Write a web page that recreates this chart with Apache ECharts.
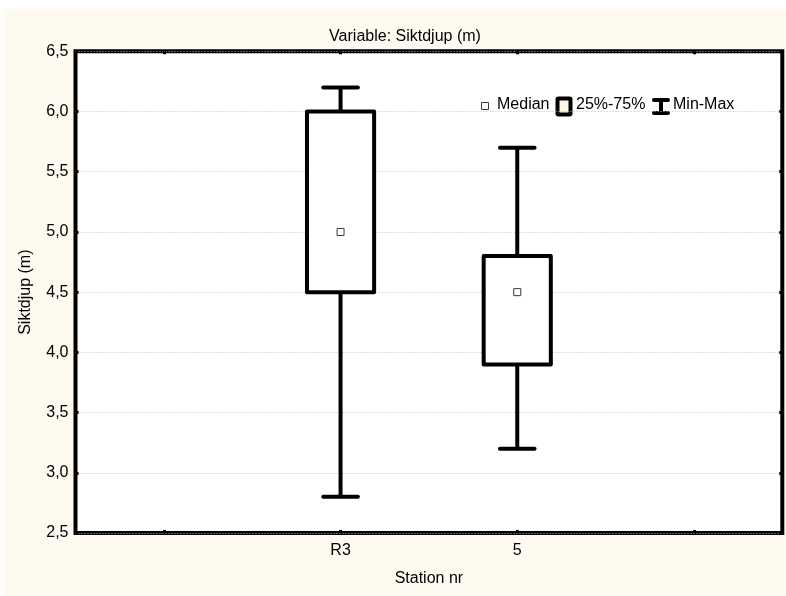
<!DOCTYPE html>
<html>
<head>
<meta charset="utf-8">
<script src="https://cdn.jsdelivr.net/npm/echarts@6/dist/echarts.min.js"></script>
<style>
  html, body { margin: 0; padding: 0; background: #ffffff; }
  #chart { position: absolute; left: 4px; top: 9px; width: 782px; height: 587px; }
</style>
</head>
<body>
<div id="chart"></div>
<script>
// Category slots on the x axis (outer slots are empty padding positions)
const categories = ['', 'R3', '5', ''];
// Stations with box statistics
const stations = ['R3', '5'];
const minValues = [2.8, 3.2];
const q1Values = [4.5, 3.9];
const medianValues = [5.0, 4.5];
const q3Values = [6.0, 4.8];
const maxValues = [6.2, 5.7];
// Y axis range and tick step
const yMin = 2.5;
const yMax = 6.5;
const yStep = 0.5;

const FONT = 'Liberation Sans, Arial, sans-serif';
const FONT_SIZE = 16;
const LINE_W = 4;

const boxData = stations.map((s, i) => [s, minValues[i], q1Values[i], q3Values[i], maxValues[i]]);
const medianData = stations.map((s, i) => [s, medianValues[i]]);

const chart = echarts.init(document.getElementById('chart'), null, { renderer: 'canvas' });

function renderWhiskers(params, api) {
  const xi = api.value(0);
  const band = api.size([1, 0])[0];
  const pMin = api.coord([xi, api.value(1)]);
  const pQ1 = api.coord([xi, api.value(2)]);
  const pQ3 = api.coord([xi, api.value(3)]);
  const pMax = api.coord([xi, api.value(4)]);
  const half = band * 0.098;
  const capStyle = { stroke: '#000', lineWidth: LINE_W, lineCap: 'round' };
  const stemStyle = { stroke: '#000', lineWidth: LINE_W };
  return {
    type: 'group',
    children: [
      { type: 'line', shape: { x1: pMax[0], y1: pMax[1], x2: pQ3[0], y2: pQ3[1] }, style: stemStyle },
      { type: 'line', shape: { x1: pMin[0], y1: pMin[1], x2: pQ1[0], y2: pQ1[1] }, style: stemStyle },
      { type: 'line', shape: { x1: pMax[0] - half, y1: pMax[1], x2: pMax[0] + half, y2: pMax[1] }, style: capStyle },
      { type: 'line', shape: { x1: pMin[0] - half, y1: pMin[1], x2: pMin[0] + half, y2: pMin[1] }, style: capStyle }
    ]
  };
}

function renderBoxes(params, api) {
  const xi = api.value(0);
  const band = api.size([1, 0])[0];
  const pQ1 = api.coord([xi, api.value(2)]);
  const pQ3 = api.coord([xi, api.value(3)]);
  const half = band * 0.19;
  return {
    type: 'rect',
    shape: { x: pQ3[0] - half, y: pQ3[1], width: half * 2, height: pQ1[1] - pQ3[1] },
    style: { fill: '#ffffff', stroke: '#000', lineWidth: LINE_W, lineJoin: 'round' }
  };
}

const tickStyle = { show: true, inside: true, length: 3, lineStyle: { color: '#000', width: 3 } };
const labelText = { fontFamily: FONT, fontSize: FONT_SIZE, color: '#000' };

const option = {
  backgroundColor: '#fefaf0',
  animation: false,
  textStyle: { fontFamily: FONT },
  title: {
    text: 'Variable: Siktdjup (m)',
    left: 396,
    top: 15,
    textAlign: 'center',
    textStyle: { fontFamily: FONT, fontSize: FONT_SIZE, fontWeight: 'normal', color: '#000' }
  },
  grid: {
    left: 71.5, right: 3.7, top: 42.3, bottom: 63,
    show: true,
    backgroundColor: '#ffffff',
    borderColor: '#000',
    borderWidth: LINE_W
  },
  xAxis: [
    {
      type: 'category',
      data: categories,
      position: 'bottom',
      boundaryGap: true,
      name: 'Station nr',
      nameLocation: 'middle',
      nameGap: 38,
      nameTextStyle: labelText,
      axisLine: { show: false },
      axisTick: Object.assign({ alignWithLabel: true, interval: 0 }, tickStyle),
      axisLabel: Object.assign({ interval: 0, margin: 10 }, labelText),
      splitLine: { show: false }
    },
    {
      type: 'category',
      data: categories,
      position: 'top',
      boundaryGap: true,
      axisLine: { show: false },
      axisTick: Object.assign({ alignWithLabel: true, interval: 0 }, tickStyle),
      axisLabel: { show: false },
      splitLine: { show: false }
    }
  ],
  yAxis: [
    {
      type: 'value',
      min: yMin,
      max: yMax,
      interval: yStep,
      position: 'left',
      name: 'Siktdjup (m)',
      nameLocation: 'middle',
      nameGap: 42,
      nameTextStyle: labelText,
      axisLine: { show: false },
      axisTick: tickStyle,
      axisLabel: Object.assign({
        margin: 7,
        formatter: v => v.toFixed(1).replace('.', ',')
      }, labelText),
      splitLine: { show: true, lineStyle: { color: '#bdbdbd', width: 1, type: [1, 2] } }
    },
    {
      type: 'value',
      min: yMin,
      max: yMax,
      interval: yStep,
      position: 'right',
      axisLine: { show: false },
      axisTick: tickStyle,
      axisLabel: { show: false },
      splitLine: { show: false }
    }
  ],
  series: [
    {
      name: 'Min-Max',
      type: 'custom',
      xAxisIndex: 0,
      yAxisIndex: 0,
      renderItem: renderWhiskers,
      encode: { x: 0, y: [1, 2, 3, 4] },
      data: boxData,
      z: 3
    },
    {
      name: '25%-75%',
      type: 'custom',
      xAxisIndex: 0,
      yAxisIndex: 0,
      renderItem: renderBoxes,
      encode: { x: 0, y: [1, 2, 3, 4] },
      data: boxData,
      z: 4
    },
    {
      name: 'Median',
      type: 'scatter',
      xAxisIndex: 0,
      yAxisIndex: 0,
      symbol: 'rect',
      symbolSize: 7,
      itemStyle: { color: '#ffffff', borderColor: '#3a3a3a', borderWidth: 1, opacity: 1 },
      data: medianData,
      z: 5
    }
  ],
  graphic: [
    { type: 'rect', left: 477, top: 93, shape: { width: 7, height: 7 }, style: { fill: '#ffffff', stroke: '#3a3a3a', lineWidth: 1 } },
    { type: 'text', left: 493, top: 88, style: { text: 'Median', fill: '#000', font: FONT_SIZE + 'px ' + FONT } },
    { type: 'rect', shape: { x: 553.5, y: 89.5, width: 13, height: 16, r: 1 }, style: { fill: '#fef6e6', stroke: '#000', lineWidth: LINE_W } },
    { type: 'text', left: 572, top: 88, style: { text: '25%-75%', fill: '#000', font: FONT_SIZE + 'px ' + FONT } },
    {
      type: 'group',
      children: [
        { type: 'line', shape: { x1: 650, y1: 91, x2: 664, y2: 91 }, style: { stroke: '#000', lineWidth: LINE_W, lineCap: 'round' } },
        { type: 'line', shape: { x1: 650, y1: 104, x2: 664, y2: 104 }, style: { stroke: '#000', lineWidth: LINE_W, lineCap: 'round' } },
        { type: 'line', shape: { x1: 657, y1: 91, x2: 657, y2: 104 }, style: { stroke: '#000', lineWidth: LINE_W } }
      ]
    },
    { type: 'text', left: 669, top: 88, style: { text: 'Min-Max', fill: '#000', font: FONT_SIZE + 'px ' + FONT } }
  ]
};

chart.setOption(option);
</script>
</body>
</html>
